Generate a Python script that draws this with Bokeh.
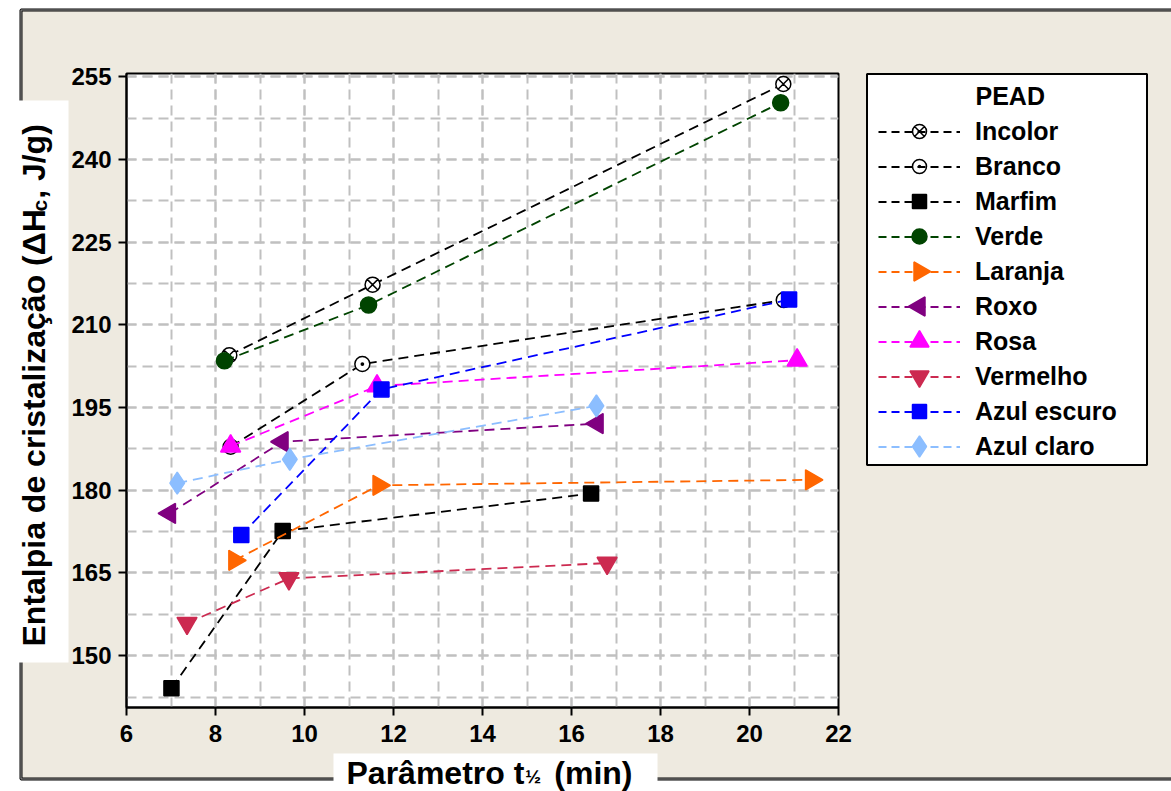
import math
from bokeh.plotting import figure
from bokeh.models import Range1d, SingleIntervalTicker, Legend, LegendItem, Label
from bokeh.embed import file_html
from bokeh.resources import INLINE

# ---- data (t1/2 in min, enthalpy of crystallization in J/g) ----
incolor_x = [8.31, 11.53, 20.76]
incolor_y = [204.5, 217.3, 253.7]
branco_x = [8.34, 11.30, 20.77]
branco_y = [187.9, 202.9, 214.5]
marfim_x = [7.01, 9.51, 16.44]
marfim_y = [144.1, 172.6, 179.4]
verde_x = [8.20, 11.44, 20.70]
verde_y = [203.5, 213.6, 250.3]
laranja_x = [8.43, 11.67, 21.39]
laranja_y = [167.3, 180.9, 181.9]
roxo_x = [6.97, 9.50, 16.58]
roxo_y = [175.8, 188.8, 192.1]
rosa_x = [8.34, 11.63, 21.07]
rosa_y = [188.0, 198.9, 203.6]
vermelho_x = [7.36, 9.65, 16.80]
vermelho_y = [155.9, 164.0, 166.8]
azul_escuro_x = [8.58, 11.73, 20.89]
azul_escuro_y = [171.9, 198.3, 214.6]
azul_claro_x = [7.14, 9.67, 16.56]
azul_claro_y = [181.3, 185.6, 195.3]

series_labels = ["Incolor", "Branco", "Marfim", "Verde", "Laranja", "Roxo",
                 "Rosa", "Vermelho", "Azul escuro", "Azul claro"]
legend_title = "PEAD"
x_title_main = "Parâmetro t"
x_title_sub = "½"
x_title_end = "(min)"
y_title_main = "Entalpia de cristalização (ΔH"
y_title_sub = "c"
y_title_end = ", J/g)"

series_data = [
    (incolor_x, incolor_y), (branco_x, branco_y), (marfim_x, marfim_y),
    (verde_x, verde_y), (laranja_x, laranja_y), (roxo_x, roxo_y),
    (rosa_x, rosa_y), (vermelho_x, vermelho_y), (azul_escuro_x, azul_escuro_y),
    (azul_claro_x, azul_claro_y),
]

# ---- styles ----
styles = [
    dict(color="black", marker="circle_x", size=15, fill="white", angle=0.0),
    dict(color="black", marker="circle_dot", size=15, fill="white", angle=0.0),
    dict(color="black", marker="square", size=15, fill="black", angle=0.0),
    dict(color="#004400", marker="circle", size=16, fill="#004400", angle=0.0),
    dict(color="#FF6600", marker="triangle", size=20, fill="#FF6600", angle=-math.pi / 2),
    dict(color="#800080", marker="triangle", size=20, fill="#800080", angle=math.pi / 2),
    dict(color="#FF00FF", marker="triangle", size=20, fill="#FF00FF", angle=0.0),
    dict(color="#CC2A50", marker="inverted_triangle", size=20, fill="#CC2A50", angle=0.0),
    dict(color="#0000FF", marker="square", size=15, fill="#0000FF", angle=0.0),
    dict(color="#8CBEFF", marker="diamond", size=22, fill="#8CBEFF", angle=0.0),
]

FONT = "Liberation Sans"
BEIGE = "#EEEAE0"
W, H = 1171, 791
OVERLAY = {"position": "absolute", "left": "0px", "top": "0px"}

# legend layout (pixels)
LEG_GLYPH_LEFT = 878
LEG_GLYPH_W = 82
LEG_ROW_H = 35
LEG_FIRST_ROW = 131

# =================== background page (pixel coordinates, y downwards) ===================
bg = figure(frame_width=W, frame_height=H, min_border=0,
            x_range=Range1d(0, W), y_range=Range1d(H, 0),
            x_axis_type=None, y_axis_type=None,
            output_backend="svg", toolbar_location=None, styles=OVERLAY)
bg.grid.visible = False
bg.outline_line_color = None
bg.background_fill_color = "white"
bg.border_fill_color = "white"
bg.extra_x_ranges = {"off": Range1d(5000, 6000)}

# beige panel with double border
bg.quad(left=[20.5], right=[1200], top=[9.5], bottom=[778.5],
        fill_color=BEIGE, line_color="black", line_width=3)
bg.quad(left=[20.5], right=[1200], top=[9.5], bottom=[778.5],
        fill_alpha=0, line_color="#A0A0A0", line_width=1)

# legend frame
bg.quad(left=[866.5], right=[1146.5], top=[73.5], bottom=[464.5],
        fill_color="white", line_color="black", line_width=2)

# axis title boxes
bg.quad(left=[12], right=[68], top=[100], bottom=[662], fill_color="white", line_color=None)
bg.quad(left=[333], right=[657], top=[753], bottom=[800], fill_color="white", line_color=None)

items = []
n = len(series_labels)
for i, ((xs, ys), st, name) in enumerate(zip(series_data, styles, series_labels)):
    lr = bg.line(xs, ys, line_color=st["color"], line_width=1.8, line_dash="8 5",
                 x_range_name="off")
    items.append(LegendItem(label=name, renderers=[lr]))
    # legend marker (drawn on top so that rotated triangles keep their direction)
    bg.scatter([LEG_GLYPH_LEFT + LEG_GLYPH_W / 2], [LEG_FIRST_ROW + i * LEG_ROW_H],
               marker=st["marker"], size=st["size"] - 1, fill_color=st["fill"],
               line_color=st["color"], line_width=1.5, angle=st["angle"], level="overlay")

legend = Legend(items=items,
                location=(LEG_GLYPH_LEFT, H - (LEG_FIRST_ROW - LEG_ROW_H / 2 + n * LEG_ROW_H)),
                orientation="vertical",
                label_text_font=FONT, label_text_font_size="25px", label_text_font_style="bold",
                label_text_color="black", glyph_width=LEG_GLYPH_W, glyph_height=LEG_ROW_H,
                label_height=LEG_ROW_H, label_standoff=15, spacing=0, padding=0, margin=0,
                background_fill_alpha=0, border_line_alpha=0)
bg.add_layout(legend)

bg.add_layout(Label(x=975, y=95, text=legend_title,
                    text_font=FONT, text_font_style="bold", text_font_size="25px",
                    text_baseline="middle", text_align="left", text_color="black"))

# y title (rotated, with subscript c)
ys0 = 646
fs = 32
w1 = 13.561 * fs
w2 = 0.556 * 21
ybx = 33
bg.add_layout(Label(x=ybx, y=ys0, text=y_title_main, angle=math.pi / 2,
                    text_font=FONT, text_font_style="bold", text_font_size=f"{fs}px",
                    text_baseline="alphabetic", text_align="left", text_color="black"))
bg.add_layout(Label(x=ybx + 6, y=ys0 - w1 - 1, text=y_title_sub, angle=math.pi / 2,
                    text_font=FONT, text_font_style="bold", text_font_size="21px",
                    text_baseline="alphabetic", text_align="left", text_color="black"))
bg.add_layout(Label(x=ybx, y=ys0 - w1 - w2 - 2, text=y_title_end, angle=math.pi / 2,
                    text_font=FONT, text_font_style="bold", text_font_size=f"{fs}px",
                    text_baseline="alphabetic", text_align="left", text_color="black"))

# x title (with subscript 1/2)
xs0 = 346
fx = 32
xby = 772
bg.add_layout(Label(x=xs0, y=xby, text=x_title_main,
                    text_font=FONT, text_font_style="bold", text_font_size=f"{fx}px",
                    text_baseline="alphabetic", text_align="left", text_color="black"))
bg.add_layout(Label(x=xs0 + 5.557 * fx + 1, y=xby + 4, text=x_title_sub,
                    text_font=FONT, text_font_style="bold", text_font_size="19px",
                    text_baseline="alphabetic", text_align="left", text_color="black"))
bg.add_layout(Label(x=xs0 + 5.557 * fx + 30, y=xby, text=x_title_end,
                    text_font=FONT, text_font_style="bold", text_font_size=f"{fx}px",
                    text_baseline="alphabetic", text_align="left", text_color="black"))

# =================== main plot (transparent border, overlaid) ===================
p = figure(frame_width=712, frame_height=634,
           min_border_left=126, min_border_right=333, min_border_top=73, min_border_bottom=84,
           x_range=Range1d(6, 22), y_range=Range1d(140.6, 255.6),
           output_backend="svg", toolbar_location=None, styles=OVERLAY)
p.background_fill_color = "white"
p.border_fill_alpha = 0
p.outline_line_color = "black"
p.outline_line_width = 2

xt = SingleIntervalTicker(interval=2, num_minor_ticks=2)
yt = SingleIntervalTicker(interval=15, num_minor_ticks=2)
p.xaxis.ticker = xt
p.yaxis.ticker = yt
p.xgrid.ticker = xt
p.ygrid.ticker = yt

for g in (p.xgrid, p.ygrid):
    g.grid_line_color = "#C0C0C0"
    g.grid_line_width = 2
    g.grid_line_dash = "10 6"
    g.minor_grid_line_color = "#C0C0C0"
    g.minor_grid_line_width = 2
    g.minor_grid_line_dash = "10 6"

for ax in (p.xaxis, p.yaxis):
    ax.axis_line_color = "black"
    ax.axis_line_width = 2
    ax.major_tick_line_color = "black"
    ax.major_tick_line_width = 2
    ax.major_tick_out = 8
    ax.major_tick_in = 0
    ax.minor_tick_line_color = None
    ax.major_label_text_font = FONT
    ax.major_label_text_font_style = "bold"
    ax.major_label_text_font_size = "24px"
    ax.major_label_text_color = "black"
p.xaxis.major_label_standoff = 9
p.yaxis.major_label_standoff = 7

for (xs, ys), st in zip(series_data, styles):
    p.line(xs, ys, line_color=st["color"], line_width=1.8, line_dash="10 6")
    p.scatter(xs, ys, marker=st["marker"], size=st["size"], fill_color=st["fill"],
              line_color=st["color"], line_width=1.5, angle=st["angle"])

open("out.html", "w").write(file_html([bg, p], INLINE))
